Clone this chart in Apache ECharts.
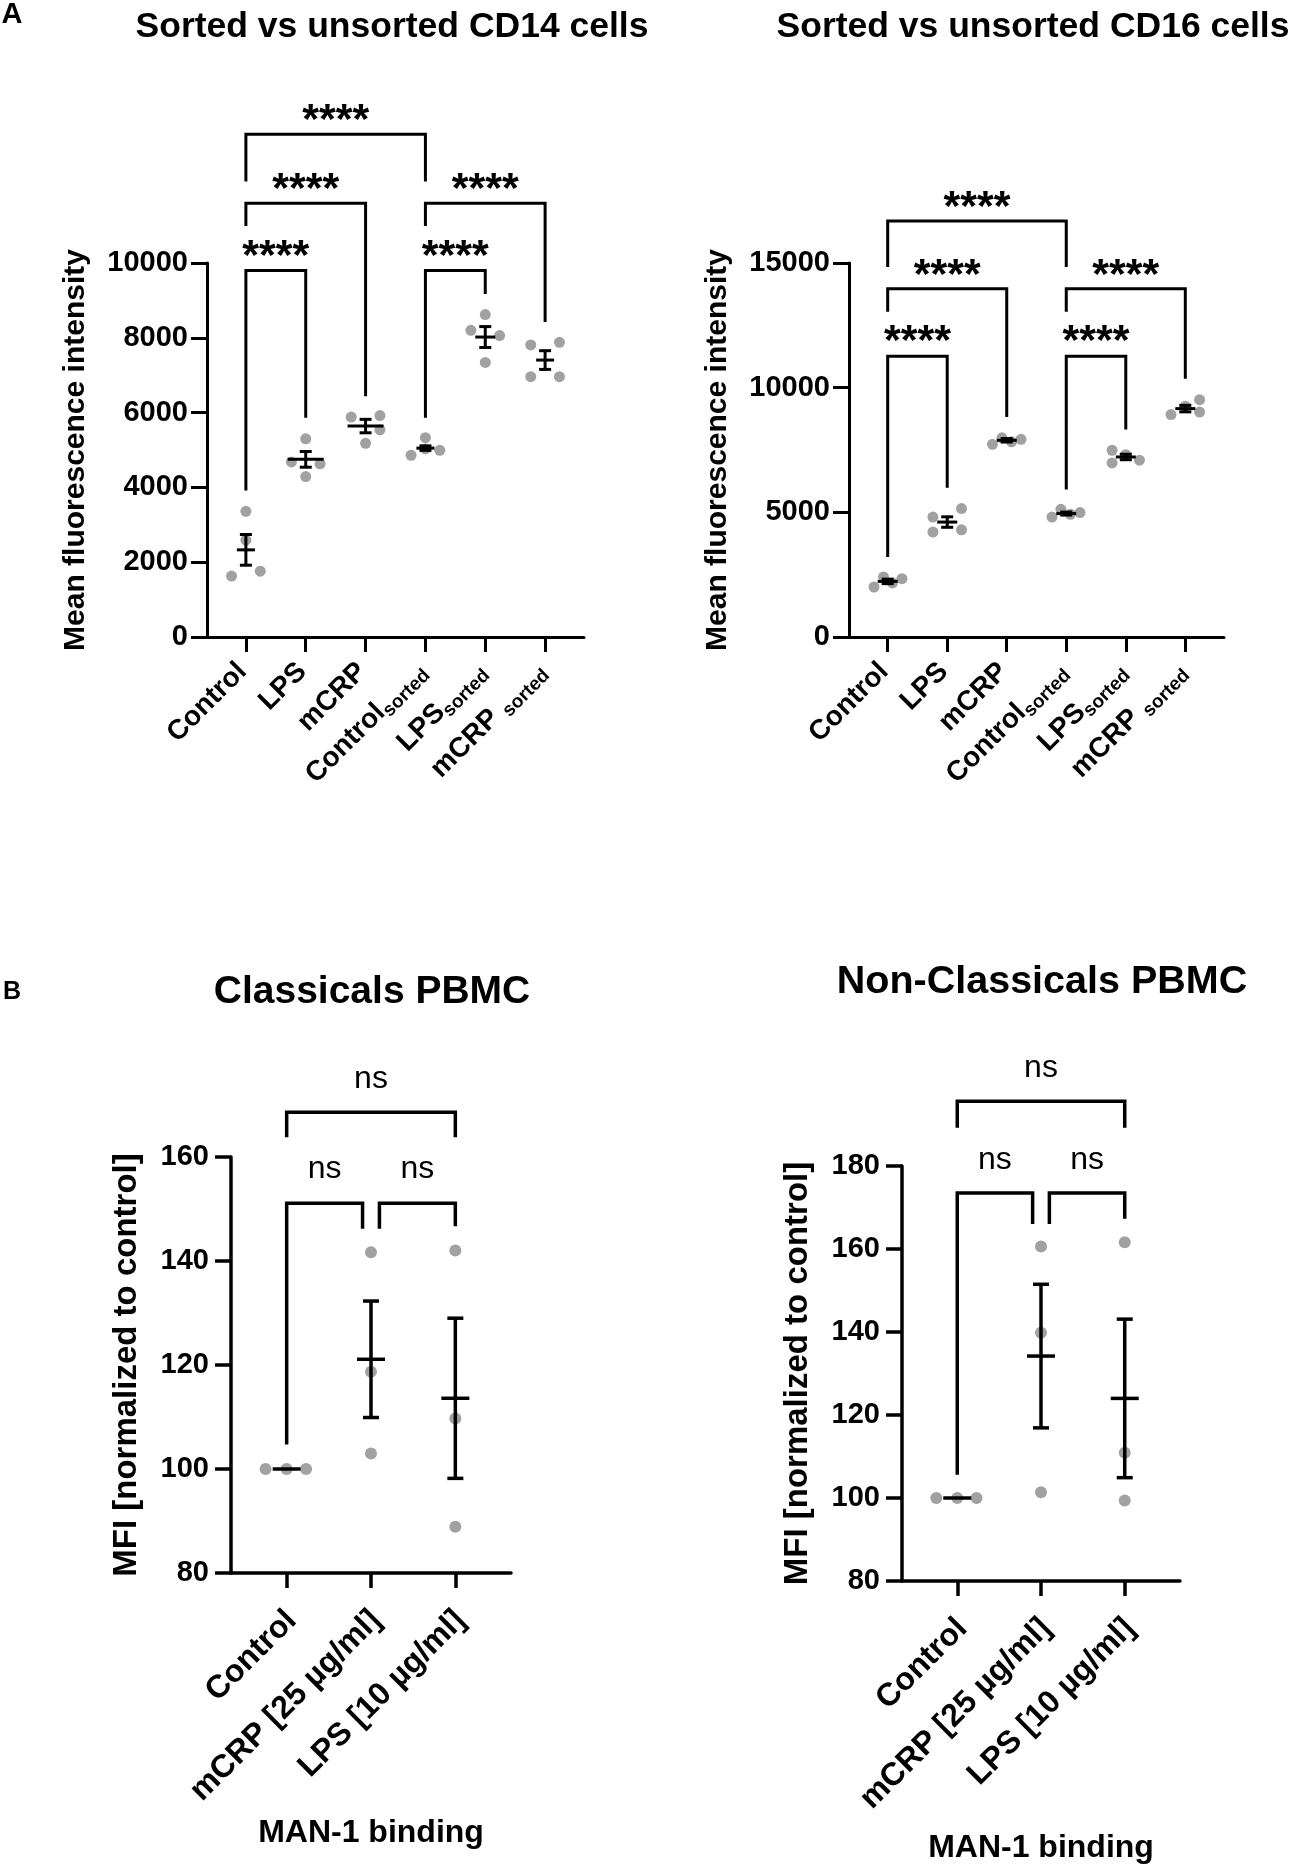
<!DOCTYPE html>
<html>
<head>
<meta charset="utf-8">
<script src="https://cdn.jsdelivr.net/npm/echarts@6/dist/echarts.min.js"></script>
<style>
  html, body { margin: 0; padding: 0; background: #fff; }
  #main { width: 1291px; height: 1864px; }
</style>
</head>
<body>
<div id="main"></div>
<script>
// ---------- data ----------
// panel A: "_" splits the subscript part of a label
const cd14Cats = ['Control', 'LPS', 'mCRP', 'Control_sorted', 'LPS_sorted', 'mCRP _sorted'];
const cd14Values = [
  [3360, 2590, 1630, 1760],
  [5300, 4680, 4630, 4290],
  [5880, 5920, 5540, 5180],
  [5330, 4860, 4990, 5030],
  [8620, 8200, 8060, 7340],
  [7810, 7880, 6960, 6960]
];
const cd14Mean = [2330, 4750, 5640, 5050, 8020, 7405];
const cd14Sem = [410, 210, 180, 60, 280, 250];
// significance brackets: [from, to, top, left leg end, right leg end, label level]
const cd14Brackets = [
  [1, 2, 9800, 3920, 5860, 10430],
  [1, 3, 11600, 10990, 6440, 12210],
  [1, 4, 13440, 12180, 12180, 14050],
  [4, 5, 9800, 5860, 9170, 10430],
  [4, 6, 11600, 10990, 8420, 12210]
];
const cd14Sig = ['****', '****', '****', '****', '****'];

const cd16Cats = cd14Cats;
const cd16Values = [
  [2005, 2410, 2340, 2170],
  [4810, 5150, 4210, 4300],
  [7730, 7990, 7930, 7830],
  [4810, 5120, 4990, 4920],
  [7490, 6980, 7090, 7310],
  [8920, 9520, 9020, 9250]
];
const cd16Mean = [2230, 4610, 7890, 4950, 7220, 9160];
const cd16Sem = [90, 210, 70, 60, 110, 130];
const cd16Brackets = [
  [1, 2, 11260, 3210, 5990, 12210],
  [1, 3, 13970, 13040, 8820, 14890],
  [1, 4, 16680, 14840, 14840, 17610],
  [4, 5, 11260, 5920, 8320, 12210],
  [4, 6, 13970, 13040, 10360, 14890]
];
const cd16Sig = ['****', '****', '****', '****', '****'];

// panel B
const pbmcCats = ['Control', 'mCRP [25 µg/ml]', 'LPS [10 µg/ml]'];
const classValues = [
  [100, 100, 100],
  [141.7, 118.7, 103.0],
  [142.0, 109.7, 88.9]
];
const classMean = [100, 121.1, 113.6];
const classSem = [0, 11.2, 15.4];
const classBrackets = [
  [1, 1.9, 151.1, 104.7, 146.2, 157.3],
  [2.1, 3, 151.1, 146.2, 146.7, 157.3],
  [1, 3, 168.6, 163.8, 163.8, 174.6]
];
const classSig = ['ns', 'ns', 'ns'];

const nonClassValues = [
  [100, 100, 100],
  [160.6, 139.8, 101.4],
  [161.6, 110.9, 99.4]
];
const nonClassMean = [100, 134.2, 124.0];
const nonClassSem = [0, 17.3, 19.1];
const nonClassBrackets = [
  [1, 1.9, 173.5, 105.6, 166.0, 181.0],
  [2.1, 3, 173.5, 166.0, 167.3, 181.0],
  [1, 3, 195.6, 189.2, 189.2, 203.0]
];
const nonClassSig = ['ns', 'ns', 'ns'];

// horizontal spread of the dots inside each column (layout only)
const cd14Spread = [[0, 0, -0.24, 0.24], [0, -0.24, 0.24, 0], [-0.24, 0.24, 0.24, 0], [0, -0.24, 0.24, 0], [0, -0.24, 0.24, 0], [-0.24, 0.24, -0.24, 0.24]];
const cd16Spread = [[-0.23, -0.07, 0.24, 0.08], [-0.24, 0.24, -0.24, 0.24], [-0.24, -0.08, 0.24, 0.08], [-0.24, -0.09, 0.23, 0.07], [-0.23, -0.23, 0.23, 0], [-0.24, 0.24, 0.24, 0]];
const pbmcSpread = [[-0.25, 0, 0.23], [0, 0, 0], [0, 0, 0]];

// ---------- chart ----------
const FONT = 'Liberation Sans, Arial, Helvetica, sans-serif';
const DOT = '#8a8a8a';

const grids = [], xAxes = [], yAxes = [], series = [];

function addPanel(p) {
  const gi = grids.length;
  grids.push({ left: p.grid[0], top: p.grid[1], width: p.grid[2], height: p.grid[3], outerBoundsMode: 'none' });
  const cats = p.cats.map((c, i) => i + 1);
  xAxes.push({
    type: 'value', gridIndex: gi, min: p.xMin, max: p.xMax,
    name: p.xName || '', nameLocation: 'middle', nameGap: p.xNameGap || 0, nameMoveOverlap: false,
    nameTextStyle: { fontFamily: FONT, fontSize: 32, fontWeight: 'bold', color: '#000' },
    axisLine: { show: true, onZero: false, lineStyle: { color: '#000', width: p.lw } },
    axisTick: { show: true, customValues: cats, length: 15, lineStyle: { color: '#000', width: p.lw } },
    splitLine: { show: false },
    axisLabel: {
      customValues: cats, rotate: 45, margin: p.labMargin, padding: p.labPad,
      color: '#000', fontFamily: FONT, fontWeight: 'bold', fontSize: p.labSize,
      formatter: function (v) {
        const parts = p.cats[Math.round(v) - 1].split('_');
        return '{m|' + parts[0] + '}' + (parts[1] ? '{s|' + parts[1] + '}' : '');
      },
      rich: {
        m: { fontFamily: FONT, fontWeight: 'bold', fontSize: p.labSize, lineHeight: p.labSize + 6, color: '#000' },
        s: { fontFamily: FONT, fontWeight: 'bold', fontSize: p.subSize, lineHeight: p.subSize, verticalAlign: 'bottom', color: '#000' }
      }
    }
  });
  yAxes.push({
    type: 'value', gridIndex: gi, min: p.yMin, max: p.yMax, interval: p.yStep,
    name: p.yName, nameLocation: 'middle', nameGap: p.yNameGap, nameRotate: 90, nameMoveOverlap: false,
    nameTextStyle: { fontFamily: FONT, fontSize: p.yNameSize, fontWeight: 'bold', color: '#000' },
    axisLine: { show: true, onZero: false, lineStyle: { color: '#000', width: p.lw } },
    axisTick: { show: true, length: 16, lineStyle: { color: '#000', width: p.lw } },
    splitLine: { show: false },
    axisLabel: {
      margin: p.yLabMargin, color: '#000', fontFamily: FONT, fontWeight: 'bold', fontSize: 29,
      formatter: function (v) { return String(v); }
    }
  });

  // individual donors
  const pts = [];
  p.values.forEach((g, i) => g.forEach((v, j) => pts.push([i + 1 + p.spread[i][j], v])));
  series.push({
    type: 'scatter', xAxisIndex: gi, yAxisIndex: gi, data: pts, z: 2,
    symbol: 'circle', symbolSize: p.dot, itemStyle: { color: DOT }, silent: true
  });

  // mean +/- SEM
  series.push({
    type: 'custom', xAxisIndex: gi, yAxisIndex: gi, z: 5, silent: true,
    data: p.mean.map((m, i) => [i + 1, m, p.sem[i]]),
    encode: { x: 0, y: 1 },
    renderItem: function (params, api) {
      const x = api.value(0), m = api.value(1), s = api.value(2);
      const c = api.coord([x, m]);
      const hw = p.meanW[params.dataIndex] / 2, cw = p.capW / 2;
      const st = { stroke: '#000', lineWidth: p.lw, lineCap: 'butt' };
      const kids = [{ type: 'line', shape: { x1: c[0] - hw, y1: c[1], x2: c[0] + hw, y2: c[1] }, style: st }];
      if (s > 0) {
        const t = api.coord([x, m + s]), b = api.coord([x, m - s]);
        kids.push({ type: 'line', shape: { x1: c[0], y1: t[1], x2: c[0], y2: b[1] }, style: st });
        kids.push({ type: 'line', shape: { x1: c[0] - cw, y1: t[1], x2: c[0] + cw, y2: t[1] }, style: st });
        kids.push({ type: 'line', shape: { x1: c[0] - cw, y1: b[1], x2: c[0] + cw, y2: b[1] }, style: st });
      }
      return { type: 'group', children: kids };
    }
  });

  // significance brackets
  series.push({
    type: 'custom', xAxisIndex: gi, yAxisIndex: gi, z: 4, clip: false, silent: true,
    data: p.brackets,
    encode: { x: 0, y: 2 },
    renderItem: function (params, api) {
      const x1 = api.value(0), x2 = api.value(1), yt = api.value(2), yl = api.value(3), yr = api.value(4), ly = api.value(5);
      const pts = [api.coord([x1, yl]), api.coord([x1, yt]), api.coord([x2, yt]), api.coord([x2, yr])];
      const lp = api.coord([(x1 + x2) / 2, ly]);
      const txt = p.sig[params.dataIndex];
      return {
        type: 'group', children: [
          { type: 'polyline', shape: { points: pts }, style: { stroke: '#000', lineWidth: p.lw, fill: 'none', lineJoin: 'miter' } },
          {
            type: 'text', x: lp[0], y: lp[1] + p.sigShift,
            style: {
              text: txt, fill: '#000', fontFamily: FONT, fontSize: p.sigSize, fontWeight: p.sigWeight,
              align: 'center', verticalAlign: 'middle', textAlign: 'center', textVerticalAlign: 'middle'
            }
          }
        ]
      };
    }
  });
}

const panelA = { xMin: 0.35, xMax: 6.65, lw: 3, dot: 11, capW: 12, labSize: 28, subSize: 19, labMargin: 24, labPad: [4, 7, 0, 0],
  yName: 'Mean fluorescence intensity', yNameSize: 30, yNameGap: 116, yLabMargin: 19,
  sigSize: 43, sigWeight: 'bold', sigShift: 10 };
const panelB = { xMin: 0.34, xMax: 3.66, lw: 3.5, dot: 12, capW: 16, labSize: 32, subSize: 20, labMargin: 32, labPad: [22, 4, 0, 0],
  yName: 'MFI [normalized to control]', yNameSize: 33, yNameGap: 88, yLabMargin: 22,
  xName: 'MAN-1 binding', sigSize: 32, sigWeight: 'normal', sigShift: -2, meanW: [28, 28, 28] };

addPanel(Object.assign({}, panelA, {
  grid: [207, 263, 377, 374], cats: cd14Cats, values: cd14Values, spread: cd14Spread,
  mean: cd14Mean, sem: cd14Sem, brackets: cd14Brackets, sig: cd14Sig,
  yMin: 0, yMax: 10000, yStep: 2000, meanW: [18, 36, 36, 18, 20, 18]
}));
addPanel(Object.assign({}, panelA, {
  grid: [849, 263, 375, 374], cats: cd16Cats, values: cd16Values, spread: cd16Spread,
  mean: cd16Mean, sem: cd16Sem, brackets: cd16Brackets, sig: cd16Sig,
  yMin: 0, yMax: 15000, yStep: 5000, meanW: [20, 20, 20, 20, 20, 20]
}));
addPanel(Object.assign({}, panelB, {
  grid: [231, 1157, 280, 416], cats: pbmcCats, values: classValues, spread: pbmcSpread,
  mean: classMean, sem: classSem, brackets: classBrackets, sig: classSig,
  yMin: 80, yMax: 160, yStep: 20, xNameGap: 244
}));
addPanel(Object.assign({}, panelB, {
  grid: [902, 1166, 278, 415], cats: pbmcCats, values: nonClassValues, spread: pbmcSpread,
  mean: nonClassMean, sem: nonClassSem, brackets: nonClassBrackets, sig: nonClassSig,
  yMin: 80, yMax: 180, yStep: 20, xNameGap: 251, yNameGap: 88
}));

function heading(text, x, y, size) {
  return { text: text, left: x, top: y, textAlign: 'center', textVerticalAlign: 'middle', padding: 0,
    textStyle: { fontFamily: FONT, fontSize: size, fontWeight: 'bold', color: '#000' } };
}

const chart = echarts.init(document.getElementById('main'), null, { renderer: 'canvas' });
chart.setOption({
  animation: false,
  backgroundColor: '#fff',
  title: [
    heading('A', 12, 15, 29),
    heading('Sorted vs unsorted CD14 cells', 392, 27, 35.5),
    heading('Sorted vs unsorted CD16 cells', 1033, 27, 35.5),
    heading('B', 12, 992, 25),
    heading('Classicals PBMC', 372, 992, 39),
    heading('Non-Classicals PBMC', 1042, 982, 39.5)
  ],
  grid: grids,
  xAxis: xAxes,
  yAxis: yAxes,
  series: series
});
</script>
</body>
</html>
